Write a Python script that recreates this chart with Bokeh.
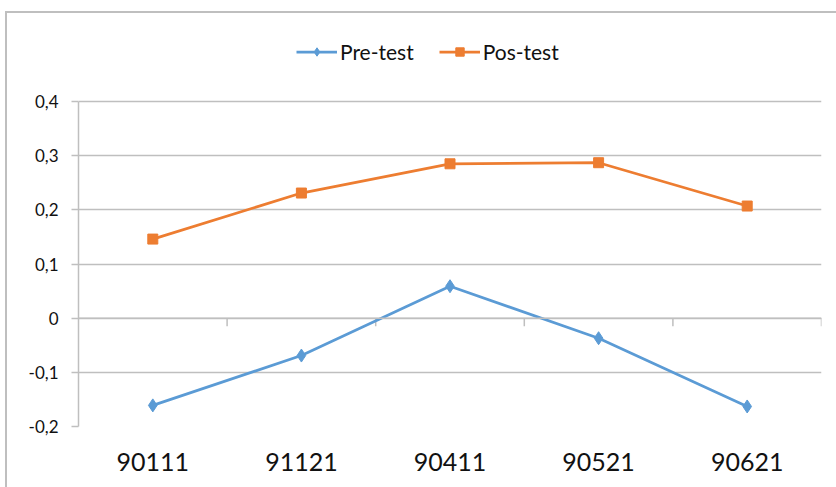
from bokeh.plotting import figure
from bokeh.models import (Range1d, FixedTicker, Legend, LegendItem, Span, ColumnDataSource)
from bokeh.embed import file_html
from bokeh.resources import INLINE
import numpy as np

categories = ["90111", "91121", "90411", "90521", "90621"]
pre_test = [-0.161, -0.069, 0.059, -0.037, -0.163]
pos_test = [0.146, 0.231, 0.285, 0.287, 0.207]
y_ticks = [-0.2, -0.1, 0.0, 0.1, 0.2, 0.3, 0.4]
y_tick_labels = ["-0,2", "-0,1", "0", "0,1", "0,2", "0,3", "0,4"]

BLUE = "#5B9BD5"
ORANGE = "#ED7D31"
GRID = "#BFBFBF"
FONT = "Lato"

n = len(categories)
xs = np.arange(n) + 0.5
bounds = np.arange(1, n + 1)

# frame extends above the value area to host the legend
TOP_BORDER = 20
FRAME_H = 487 - 61 - TOP_BORDER
PX_PER_UNIT = 325 / (y_ticks[-1] - y_ticks[0])
y_top = y_ticks[0] + FRAME_H / PX_PER_UNIT

p = figure(width=836, height=487, output_backend="svg", toolbar_location=None,
           x_range=Range1d(0, n), y_range=Range1d(y_ticks[0], y_top),
           min_border_left=78, min_border_right=15, min_border_top=TOP_BORDER,
           min_border_bottom=61)
p.outline_line_color = None
p.background_fill_color = None
p.border_fill_color = None
# chart border (top and left edges visible)
p.styles = {
    "background": ("linear-gradient(#BFBFBF,#BFBFBF) 5px 12px / 2px 100% no-repeat, "
                   "linear-gradient(#BFBFBF,#BFBFBF) 5px 11px / 100% 2px no-repeat"),
}

# y axis
p.yaxis.ticker = FixedTicker(ticks=y_ticks)
p.yaxis.bounds = (y_ticks[0], y_ticks[-1])
p.yaxis.major_label_overrides = {t: l for t, l in zip(y_ticks, y_tick_labels)}
p.yaxis.axis_line_color = GRID
p.yaxis.axis_line_width = 1.5
p.yaxis.major_tick_line_color = GRID
p.yaxis.major_tick_line_width = 1.5
p.yaxis.major_tick_out = 7
p.yaxis.major_tick_in = 0
p.yaxis.minor_tick_line_color = None
p.yaxis.major_label_standoff = 13
p.yaxis.major_label_text_font = FONT
p.yaxis.major_label_text_font_size = "17px"
p.yaxis.major_label_text_color = "#111111"

# x axis
p.xaxis.ticker = FixedTicker(ticks=list(xs))
p.xaxis.major_label_overrides = {float(x): c for x, c in zip(xs, categories)}
p.xaxis.axis_line_color = None
p.xaxis.major_tick_line_color = None
p.xaxis.minor_tick_line_color = None
p.xaxis.major_label_standoff = 20
p.xaxis.major_label_text_font = FONT
p.xaxis.major_label_text_font_size = "25px"
p.xaxis.major_label_text_color = "#111111"

p.xgrid.grid_line_color = None
p.ygrid.ticker = FixedTicker(ticks=y_ticks)
p.ygrid.grid_line_color = GRID
p.ygrid.grid_line_width = 1.5

# horizontal category axis crossing at zero
p.add_layout(Span(location=0, dimension="width", line_color=GRID, line_width=1.5))
tick_len = 8 / PX_PER_UNIT
p.segment(x0=bounds, y0=np.zeros(n), x1=bounds, y1=np.full(n, -tick_len),
          line_color=GRID, line_width=1.5)

src_pre = ColumnDataSource(dict(x=xs, y=pre_test))
src_pos = ColumnDataSource(dict(x=xs, y=pos_test))
l1 = p.line("x", "y", source=src_pre, line_color=BLUE, line_width=2.75)
m1 = p.scatter("x", "y", source=src_pre, marker="diamond", size=13,
               fill_color=BLUE, line_color=BLUE)
l2 = p.line("x", "y", source=src_pos, line_color=ORANGE, line_width=2.75)
m2 = p.scatter("x", "y", source=src_pos, marker="square", size=10,
               fill_color=ORANGE, line_color=ORANGE)

legend = Legend(items=[LegendItem(label="Pre-test", renderers=[l1, m1]),
                       LegendItem(label="Pos-test", renderers=[l2, m2])],
                orientation="horizontal", location=(218, 426 - 64))
legend.label_text_font = FONT
legend.label_text_font_size = "21px"
legend.label_text_color = "#111111"
legend.glyph_width = 41
legend.glyph_height = 21
legend.label_height = 21
legend.label_standoff = 3
legend.spacing = 25
legend.padding = 0
legend.margin = 0
legend.border_line_color = None
legend.background_fill_alpha = 0
p.add_layout(legend, "center")

open("out.html", "w").write(file_html(p, INLINE))
